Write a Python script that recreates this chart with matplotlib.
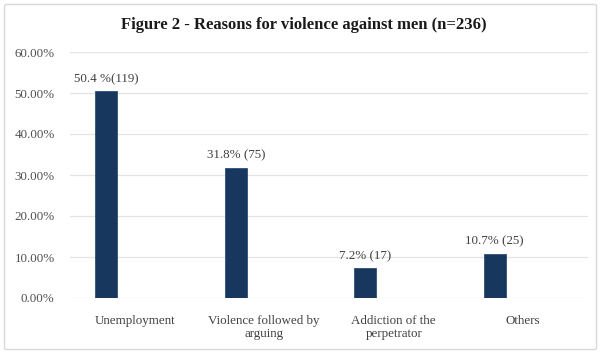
import matplotlib
matplotlib.use("Agg")
import matplotlib.pyplot as plt
from matplotlib.patches import FancyBboxPatch
import numpy as np

categories = ["Unemployment", "Violence followed by\narguing",
              "Addiction of the\nperpetrator", "Others"]
percentages = [50.4, 31.8, 7.2, 10.7]
counts = [119, 75, 17, 25]
value_labels = ["50.4 %(119)", "31.8% (75)", "7.2% (17)", "10.7% (25)"]
y_ticks = [0, 10, 20, 30, 40, 50, 60]
y_tick_labels = ["0.00%", "10.00%", "20.00%", "30.00%", "40.00%", "50.00%", "60.00%"]
title = "Figure 2 - Reasons for violence against men (n=236)"

plt.rcParams["font.family"] = ["Liberation Serif", "DejaVu Serif"]

W, H = 601, 354
fig = plt.figure(figsize=(W / 100, H / 100), dpi=100)
fig.patch.set_facecolor("white")

# light outer chart frame
frame = FancyBboxPatch((4.5 / W, 4.5 / H), (592 / W), (345 / H),
                       boxstyle="round,pad=0,rounding_size=0.004",
                       transform=fig.transFigure, facecolor="none",
                       edgecolor="#D9D9D9", linewidth=1.0, zorder=-1)
fig.patches.append(frame)

ax = fig.add_axes([70 / W, 1 - 298 / H, 518 / W, 246 / H])
ax.set_facecolor("none")

x = np.arange(len(categories))
bar_offset = -0.22
bars = ax.bar(x + bar_offset, percentages, width=0.17, color="#17375E",
              edgecolor="#2E4F78", linewidth=0.6, zorder=3)

for xi, val, lab in zip(x, percentages, value_labels):
    ax.annotate(lab, (xi + bar_offset, val), xytext=(0, 9),
                textcoords="offset points", ha="center", va="center",
                fontsize=9.4, color="#404040")

ax.set_xlim(-0.5, len(categories) - 0.5)
ax.set_ylim(0, 60)
ax.set_yticks(y_ticks)
ax.set_yticklabels(y_tick_labels, fontsize=9.4, color="#505050")
ax.set_xticks(x)
ax.set_xticklabels(categories, fontsize=9.4, color="#404040", linespacing=1.15)
ax.tick_params(axis="both", length=0)
ax.tick_params(axis="y", pad=11)
ax.tick_params(axis="x", pad=12)
ax.grid(axis="y", color="#E3E3E3", linewidth=0.9, zorder=0)
for s in ax.spines.values():
    s.set_visible(False)

fig.text(304 / W, 1 - 25 / H, title, ha="center", va="center",
         fontsize=12, fontweight="bold", color="#1A1A1A")

fig.savefig("out.png", dpi=100, facecolor="white")
